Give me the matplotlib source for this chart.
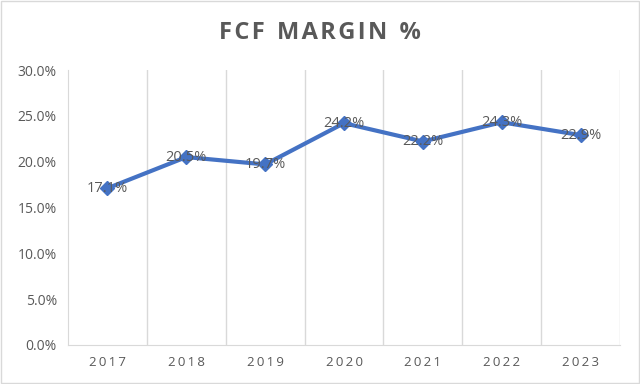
import matplotlib
matplotlib.use("Agg")
import matplotlib.pyplot as plt
from matplotlib.ticker import FuncFormatter, MultipleLocator

years = ["2017", "2018", "2019", "2020", "2021", "2022", "2023"]
margin = [17.1, 20.5, 19.7, 24.2, 22.2, 24.3, 22.9]
value_labels = ["17.1%", "20.5%", "19.7%", "24.2%", "22.2%", "24.3%", "22.9%"]

plt.rcParams['font.family'] = ['Open Sans', 'DejaVu Sans']

fig = plt.figure(figsize=(6.4, 3.84), dpi=100)
fig.patch.set_facecolor('white')
ax = fig.add_axes([68 / 640, 1 - 345 / 384, (620 - 68) / 640, (345 - 70) / 384])

x = list(range(len(years)))
ax.plot(x, margin, color='#4472C4', linewidth=3, marker='D', markersize=7, zorder=3)
for xi, v, lab in zip(x, margin, value_labels):
    ax.text(xi, v, lab, ha='center', va='center', fontsize=10.5, color='#595959', zorder=4)

ax.set_xlim(-0.5, len(years) - 0.5)
ax.set_ylim(0, 30)
ax.yaxis.set_major_locator(MultipleLocator(5))
ax.yaxis.set_major_formatter(FuncFormatter(lambda v, p: f"{v:.1f}%"))
ax.set_xticks(x)
ax.set_xticklabels(["\u2009".join(y) for y in years])
for t in ax.get_xticklabels():
    t.set_fontsize(9.5)
    t.set_color('#595959')
for t in ax.get_yticklabels():
    t.set_fontsize(10)
    t.set_color('#595959')
ax.tick_params(axis='both', length=0, pad=8)

# vertical gridlines between categories
for b in range(1, len(years) + 1):
    ax.axvline(b - 0.5, color='#D9D9D9', linewidth=1, zorder=1)

for s in ['top', 'right']:
    ax.spines[s].set_visible(False)
ax.spines['left'].set_color('#D9D9D9')
ax.spines['bottom'].set_color('#D9D9D9')

title = "  ".join("\u200a".join(w) for w in "FCF MARGIN %".split())
fig.text(0.5, 1 - 33 / 384, title,
         ha='center', va='center', fontsize=17, fontweight='bold', color='#595959')

# border round the chart
fig.add_artist(plt.Rectangle((0.002, 0.003), 0.996, 0.994, transform=fig.transFigure,
                             fill=False, edgecolor='#D9D9D9', linewidth=1))

fig.savefig("out.png", dpi=100)
